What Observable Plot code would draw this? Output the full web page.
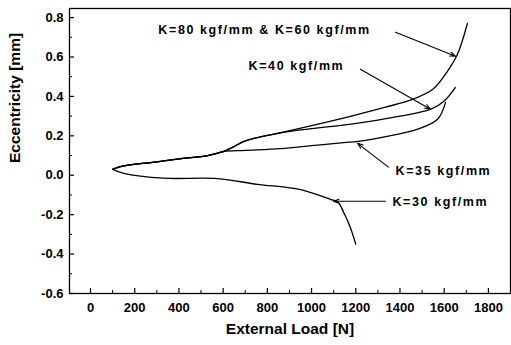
<!DOCTYPE html>
<html>
<head>
<meta charset="utf-8">
<script src="https://cdn.jsdelivr.net/npm/d3@7"></script>
<script src="https://cdn.jsdelivr.net/npm/@observablehq/plot@0.6"></script>
<style>
  body { margin: 0; background: #fff; }
  g[aria-label="text"] text.ann { letter-spacing: 1.6px; }
</style>
</head>
<body>
<div id="chart"></div>
<script>
// ---- data ----
const seriesNames = ["K=80 & K=60", "K=40", "K=35", "K=30"];

const k80Load = [100, 150, 300, 410, 530, 600, 640, 700, 860, 1010, 1180, 1330, 1460, 1550, 1610, 1660, 1705];
const k80Ecc  = [0.03, 0.047, 0.068, 0.084, 0.10, 0.12, 0.14, 0.174, 0.216, 0.254, 0.30, 0.344, 0.386, 0.437, 0.52, 0.614, 0.77];

const k40Load = [100, 150, 300, 410, 530, 600, 640, 700, 860, 1000, 1180, 1400, 1540, 1600, 1650];
const k40Ecc  = [0.03, 0.047, 0.068, 0.084, 0.10, 0.12, 0.14, 0.174, 0.215, 0.236, 0.259, 0.30, 0.335, 0.377, 0.445];

const k35Load = [100, 150, 300, 410, 530, 600, 700, 860, 1000, 1145, 1210, 1330, 1480, 1570, 1606];
const k35Ecc  = [0.03, 0.047, 0.068, 0.084, 0.10, 0.12, 0.126, 0.135, 0.15, 0.166, 0.172, 0.195, 0.234, 0.284, 0.37];

const k30Load = [100, 150, 330, 575, 755, 940, 1085, 1120, 1145, 1175, 1200];
const k30Ecc  = [0.03, 0.01, -0.015, -0.017, -0.046, -0.071, -0.122, -0.137, -0.188, -0.264, -0.35];

const xTicks = [0, 200, 400, 600, 800, 1000, 1200, 1400, 1600, 1800];
const xMinor = [100, 300, 500, 700, 900, 1100, 1300, 1500, 1700];
const yTicks = [-0.6, -0.4, -0.2, 0.0, 0.2, 0.4, 0.6, 0.8];
const yMinor = [-0.5, -0.3, -0.1, 0.1, 0.3, 0.5, 0.7];

// annotations: label text, label anchor point, arrow start and arrow tip (data units)
const annLabels = ["K=80 kgf/mm & K=60 kgf/mm", "K=40 kgf/mm", "K=35 kgf/mm", "K=30 kgf/mm"];
const annTextX  = [307, 715, 1380, 1366];
const annTextY  = [0.736, 0.553, 0.023, -0.135];
const arrX1 = [1380, 1221, 1348, 1334];
const arrY1 = [0.726, 0.538, 0.041, -0.132];
const arrX2 = [1651, 1538, 1208, 1099];
const arrY2 = [0.604, 0.335, 0.162, -0.132];

// ---- tables ----
const loads = [k80Load, k40Load, k35Load, k30Load];
const eccs = [k80Ecc, k40Ecc, k35Ecc, k30Ecc];
const curves = seriesNames.flatMap((s, i) =>
  loads[i].map((x, j) => ({series: s, load: x, ecc: eccs[i][j]})));
const anns = annLabels.map((t, i) => ({
  text: t, tx: annTextX[i], ty: annTextY[i],
  x1: arrX1[i], y1: arrY1[i], x2: arrX2[i], y2: arrY2[i]
}));

const tickFont = "'Liberation Sans Narrow', 'Liberation Sans', Arial, sans-serif";
const font = "'Liberation Sans', Arial, sans-serif";

const chart = Plot.plot({
  width: 511,
  height: 345,
  marginLeft: 69,
  marginRight: 1,
  marginTop: 8,
  marginBottom: 52,
  style: {background: "#fff", color: "#000", fontFamily: font},
  x: {domain: [-95, 1900]},
  y: {domain: [-0.6, 0.846]},
  marks: [
    Plot.frame({stroke: "#000", strokeWidth: 1.3}),
    // inward ticks (outward tick shifted inside the frame)
    Plot.axisX(xTicks, {tickSize: 5, dy: -5, text: null, strokeWidth: 1.2}),
    Plot.axisX(xMinor, {tickSize: 3, dy: -3, text: null, strokeWidth: 1}),
    Plot.axisY(yTicks, {tickSize: 5, dx: 5, text: null, strokeWidth: 1.2}),
    Plot.axisY(yMinor, {tickSize: 3, dx: 3, text: null, strokeWidth: 1}),
    // tick labels
    Plot.axisX(xTicks, {tickSize: 0, tickPadding: 9, label: null, fontSize: 13, fontWeight: "bold", fontFamily: tickFont,
      tickFormat: d => String(d)}),
    Plot.axisY(yTicks, {tickSize: 0, tickPadding: 6, label: null, fontSize: 13, fontWeight: "bold", fontFamily: tickFont,
      tickFormat: d => d.toFixed(1)}),
    // axis titles
    Plot.text(["External Load [N]"], {frameAnchor: "bottom", dy: 40, fontSize: 15.5, fontWeight: "bold", fontFamily: font}),
    Plot.text(["Eccentricity [mm]"], {frameAnchor: "left", dx: -54, dy: 12, rotate: -90, fontSize: 15.5, fontWeight: "bold", fontFamily: font}),
    // curves
    Plot.line(curves, {x: "load", y: "ecc", z: "series", curve: "catmull-rom", stroke: "#000", strokeWidth: 1.3}),
    // annotation arrows and labels
    Plot.arrow(anns, {x1: "x1", y1: "y1", x2: "x2", y2: "y2", stroke: "#000", strokeWidth: 1.1, headLength: 8, headAngle: 40}),
    Plot.text(anns, {x: "tx", y: "ty", text: "text", textAnchor: "start", fontSize: 12.5, fontWeight: "bold", fontFamily: font})
  ]
});

// letter spacing for annotation labels
d3.select(chart).selectAll('g[aria-label="text"] text').each(function() {
  const t = d3.select(this).text();
  if (annLabels.includes(t)) d3.select(this).classed("ann", true);
});

document.getElementById("chart").appendChild(chart);
</script>
</body>
</html>
